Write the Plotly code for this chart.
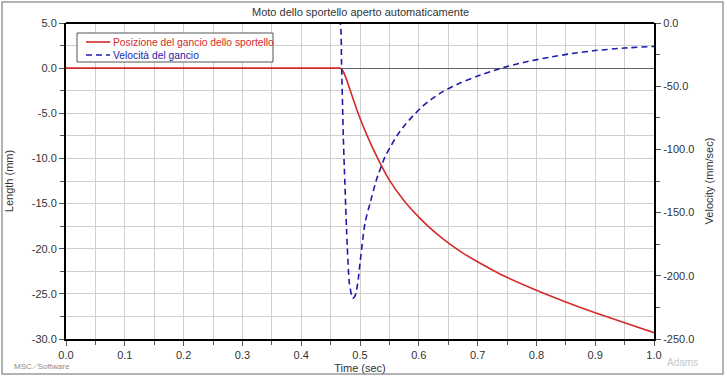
import plotly.graph_objects as go

# ---- data ----
pos_time = [0.0, 0.46, 0.467, 0.4717, 0.4773, 0.4887, 0.5, 0.5227, 0.55, 0.574, 0.6,
            0.6247, 0.65, 0.675, 0.7, 0.738, 0.8, 0.85, 0.9, 0.95, 1.0]
pos_mm = [0.0, 0.0, 0.0, -0.4, -1.3, -3.5, -5.55, -9.0, -12.4, -14.6, -16.5,
          -18.03, -19.35, -20.48, -21.45, -22.8, -24.6, -25.9, -27.1, -28.2, -29.3]

vel_time = [0.0, 0.46, 0.466, 0.4685, 0.4716, 0.4733, 0.4774, 0.4819, 0.4875, 0.4915,
            0.4935, 0.497, 0.5, 0.5085, 0.517, 0.528, 0.5425, 0.551, 0.5624, 0.575,
            0.59, 0.605, 0.62, 0.64, 0.67, 0.7, 0.74, 0.78, 0.823, 0.86, 0.9, 0.95, 1.0]
vel_mm_s = [0.0, 0.0, 0.0, -30.0, -90.0, -113.7, -166.4, -206.0, -217.8, -216.0,
            -213.0, -203.0, -190.0, -158.0, -142.7, -124.0, -105.8, -98.5, -89.5, -81.5,
            -73.5, -66.5, -60.8, -54.5, -47.5, -42.0, -35.8, -31.0, -27.0, -24.2, -21.8,
            -19.8, -18.5]

x_ticks = [0.0, 0.1, 0.2, 0.3, 0.4, 0.5, 0.6, 0.7, 0.8, 0.9, 1.0]
x_labels = ["0.0", "0.1", "0.2", "0.3", "0.4", "0.5", "0.6", "0.7", "0.8", "0.9", "1.0"]
y_ticks = [5, 0, -5, -10, -15, -20, -25, -30]
y_labels = ["5.0", "0.0", "-5.0", "-10.0", "-15.0", "-20.0", "-25.0", "-30.0"]
y2_ticks = [0, -50, -100, -150, -200, -250]
y2_labels = ["0.0", "-50.0", "-100.0", "-150.0", "-200.0", "-250.0"]

title = "Moto dello sportello aperto automaticamente"
name_pos = "Posizione del gancio dello sportello"
name_vel = "Velocità del gancio"

RED = "#d42a2a"
BLUE = "#1c1ca8"
FONT = "Liberation Sans"
TXT = "#333333"

# plot-area geometry in pixels (used to place decorations in paper coords)
W, H = 727, 379
ML, MR, MT, MB = 66, 73, 23, 40
PW, PH = W - ML - MR, H - MT - MB


def px(x):
    return (x - ML) / PW


def py(y):
    return (H - MB - y) / PH


fig = go.Figure()
fig.add_trace(go.Scatter(
    x=pos_time, y=pos_mm, mode="lines", name=name_pos, showlegend=False,
    line=dict(color=RED, width=1.6, shape="spline", smoothing=0.5),
))
fig.add_trace(go.Scatter(
    x=vel_time, y=vel_mm_s, mode="lines", yaxis="y2", name=name_vel, showlegend=False,
    line=dict(color=BLUE, width=1.6, dash="6px,4px", shape="spline", smoothing=0.5),
    cliponaxis=False,
))

axis_common = dict(
    showline=True, linecolor="black", linewidth=2, mirror=False,
    ticks="outside", ticklen=5, tickcolor="#555", tickwidth=1,
    tickfont=dict(family=FONT, size=11, color=TXT),
    automargin=False,
)

fig.update_layout(
    width=W, height=H,
    margin=dict(l=ML, r=MR, t=MT, b=MB),
    paper_bgcolor="white", plot_bgcolor="white",
    font=dict(family=FONT, size=11, color=TXT),
    showlegend=False,
    xaxis=dict(
        range=[0, 1], tickvals=x_ticks, ticktext=x_labels,
        showgrid=True, gridcolor="#cfcfcf", gridwidth=1,
        minor=dict(dtick=0.05, showgrid=True, gridcolor="#cfcfcf", ticks="outside",
                   ticklen=4, tickcolor="#555"),
        zeroline=False,
        title=dict(text="Time (sec)", font=dict(family=FONT, size=11, color=TXT), standoff=4),
        **axis_common,
    ),
    yaxis=dict(
        range=[-30, 5], tickvals=y_ticks, ticktext=y_labels,
        showgrid=True, gridcolor="#cfcfcf", gridwidth=1,
        minor=dict(dtick=2.5, tick0=0, showgrid=True, gridcolor="#cfcfcf", ticks="outside",
                   ticklen=4, tickcolor="#555"),
        zeroline=True, zerolinecolor="#666", zerolinewidth=1,
        title=dict(text="Length (mm)", font=dict(family=FONT, size=11, color=TXT), standoff=16),
        **axis_common,
    ),
    yaxis2=dict(
        overlaying="y", side="right", range=[-250, 0],
        tickvals=y2_ticks, ticktext=y2_labels,
        showgrid=False, zeroline=False,
        minor=dict(dtick=25, tick0=0, ticks="outside", ticklen=4, tickcolor="#555"),
        title=dict(text="Velocity (mm/sec)", font=dict(family=FONT, size=11, color=TXT), standoff=12),
        **axis_common,
    ),
)

fig.add_annotation(text=title, xref="paper", yref="paper", x=0.5, y=py(12),
                   xanchor="center", yanchor="middle", showarrow=False,
                   font=dict(family=FONT, size=11, color=TXT))

# top border of plot area
fig.add_shape(type="line", xref="paper", yref="paper", x0=0, x1=1, y0=1, y1=1,
              line=dict(color="black", width=2), layer="above")
# outer frame of the figure
fig.add_shape(type="rect", xref="paper", yref="paper",
              x0=px(2), x1=px(723), y0=py(374), y1=py(2),
              line=dict(color="#9a9a9a", width=1.5), layer="below")

# legend box (drawn manually for the compact row spacing of the original)
fig.add_shape(type="rect", xref="paper", yref="paper",
              x0=px(77), x1=px(273), y0=py(62), y1=py(33),
              line=dict(color="#555", width=1), fillcolor="white", layer="above")
fig.add_shape(type="line", xref="paper", yref="paper",
              x0=px(86), x1=px(110), y0=py(42), y1=py(42),
              line=dict(color=RED, width=1.6), layer="above")
fig.add_shape(type="line", xref="paper", yref="paper",
              x0=px(86), x1=px(110), y0=py(55), y1=py(55),
              line=dict(color=BLUE, width=1.6, dash="6px,4px"), layer="above")
fig.add_annotation(text=name_pos, xref="paper", yref="paper", x=px(111), y=py(42),
                   xanchor="left", yanchor="middle", showarrow=False,
                   font=dict(family=FONT, size=10.3, color=RED))
fig.add_annotation(text=name_vel, xref="paper", yref="paper", x=px(111), y=py(55),
                   xanchor="left", yanchor="middle", showarrow=False,
                   font=dict(family=FONT, size=10.3, color=BLUE))

fig.add_annotation(text="MSC<i>⟋</i>Software", xref="paper", yref="paper",
                   x=px(12), y=py(366), xanchor="left", yanchor="middle", showarrow=False,
                   font=dict(family=FONT, size=8, color="#8a8a8a"))
fig.add_annotation(text="Adams", xref="paper", yref="paper",
                   x=px(682), y=py(362), xanchor="center", yanchor="middle", showarrow=False,
                   font=dict(family=FONT, size=10, color="#c8c8c8"))

fig.write_html("out.html", config={"displayModeBar": False},
               post_script="document.body.style.margin='0';document.body.style.overflow='hidden';")
